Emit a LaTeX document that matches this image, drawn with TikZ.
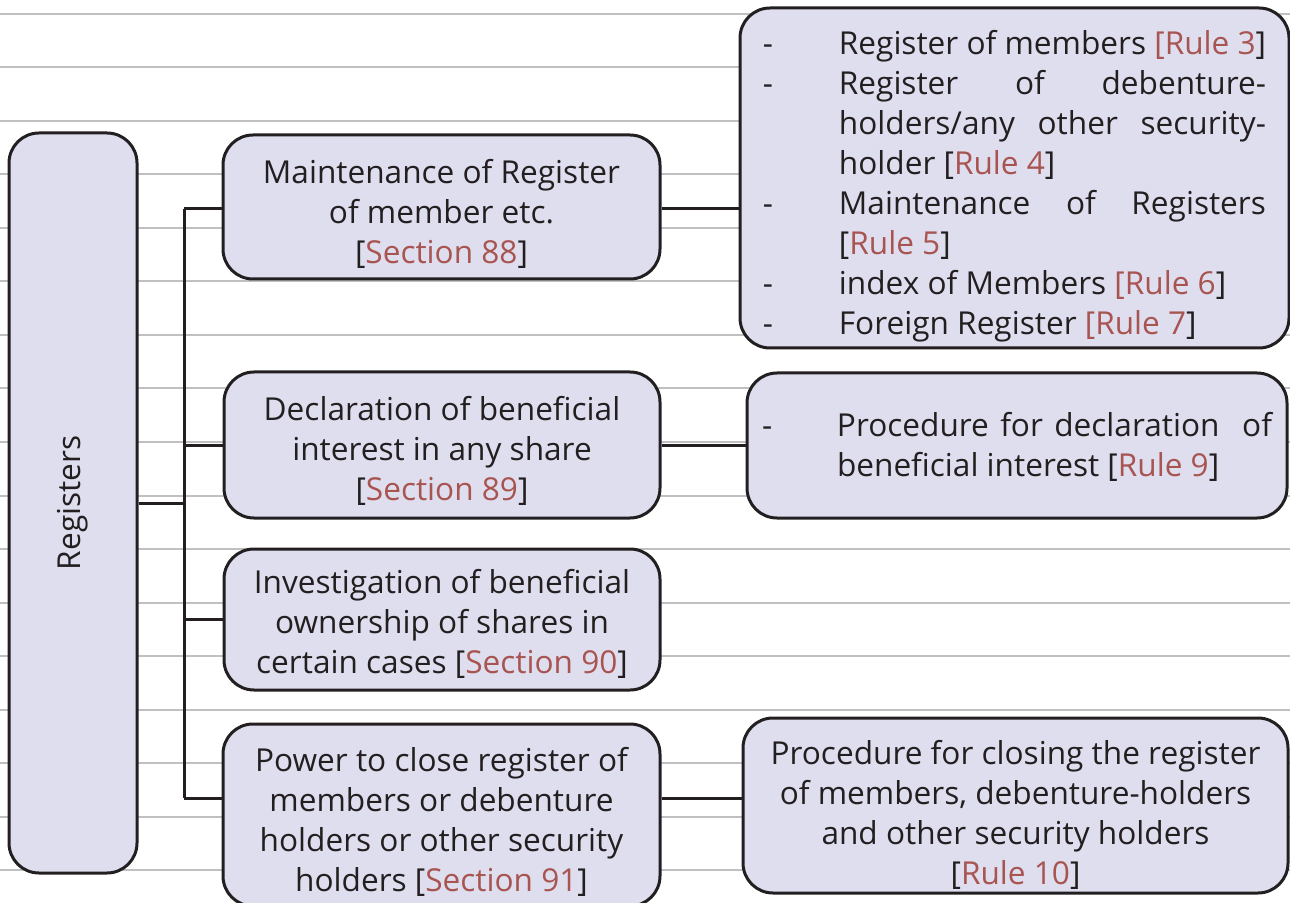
\documentclass[tikz,border=0pt]{standalone}
\usepackage{fontspec}
\setmainfont{Open Sans}
\usetikzlibrary{calc}
\definecolor{boxfill}{RGB}{223,222,239}
\definecolor{boxline}{RGB}{35,31,32}
\definecolor{refred}{RGB}{168,84,80}
\definecolor{ruleline}{RGB}{192,192,194}
\newcommand{\rf}[1]{\textcolor{refred}{#1}}
\newcommand{\dashitem}{\makebox[38pt][l]{-}}
\begin{document}
\begin{tikzpicture}[x=0.5pt,y=-0.5pt,
  box/.style={draw=boxline, line width=1.5pt, fill=boxfill, rounded corners=15pt,
    inner sep=0pt},
  boxtext/.style={inner sep=0pt, font=\fontsize{15.8}{20}\selectfont, text=boxline, align=center},
  link/.style={draw=boxline, line width=1.5pt}]
  \useasboundingbox (0,0) rectangle (1290,903);
  \fill[white] (0,0) rectangle (1290,903);
  % ruled background
  \foreach \k in {0,...,16}
    \draw[ruleline, line width=1pt] (0,14+53.5*\k) -- (1290,14+53.5*\k);

  % root box
  \node[box, minimum width=64pt, minimum height=370pt] (reg) at (73,503) {};
  \node[boxtext] (regt) at (73,503) {\rotatebox{90}{Registers}};

  % section boxes
  \node[box, minimum width=218.5pt, minimum height=72pt] (A) at (441.5,207) {};
  \node[boxtext] (At) at (441.5,214)
    {Maintenance of Register\\of member etc.\\{[}\rf{Section 88}{]}};
  \node[box, minimum width=218pt, minimum height=73pt] (B) at (442,445) {};
  \node[boxtext] (Bt) at (442,450.5)
    {Declaration of beneficial\\interest in any share\\{[}\rf{Section 89}{]}};
  \node[box, minimum width=218pt, minimum height=70.5pt] (C) at (442,619.5) {};
  \node[boxtext] (Ct) at (442,624)
    {Investigation of beneficial\\ownership of shares in\\certain cases {[}\rf{Section 90}{]}};
  \node[box, minimum width=218.5pt, minimum height=91pt] (D) at (441.5,815) {};
  \node[boxtext] (Dt) at (441.5,822)
    {Power to close register of\\members or debenture\\holders or other security\\holders {[}\rf{Section 91}{]}};

  % rule boxes
  \node[box, minimum width=274.5pt, minimum height=170pt] (E) at (1014.5,178) {};
  \node[boxtext, align=left] (Et) at (1014.5,186)
    {\dashitem Register of members \rf{[Rule 3}]\\
     \dashitem\makebox[213.5pt][s]{Register of debenture-}\\
     \hspace*{38pt}\makebox[213.5pt][s]{holders/any other security-}\\
     \hspace*{38pt}holder {[}\rf{Rule 4}{]}\\
     \dashitem\makebox[213.5pt][s]{Maintenance of Registers}\\
     \hspace*{38pt}{[}\rf{Rule 5}{]}\\
     \dashitem index of Members \rf{[Rule 6}]\\
     \dashitem Foreign Register \rf{[Rule 7}]};
  \node[box, minimum width=270pt, minimum height=72.5pt] (F) at (1017,445.5) {};
  \node[boxtext, align=left] (Ft) at (1017,446.5)
    {\makebox[37.5pt][l]{-}\makebox[217.5pt][s]{Procedure for declaration\ \ of}\\
     \hspace*{37.5pt}beneficial interest {[}\rf{Rule 9}{]}};
  \node[box, minimum width=272.5pt, minimum height=87.5pt] (G) at (1015.5,805.5) {};
  \node[boxtext] (Gt) at (1015.5,814.5)
    {Procedure for closing the register\\of members, debenture-holders\\and other security holders\\{[}\rf{Rule 10}{]}};

  % connector junctions
  \coordinate (j)  at (184,503);
  \coordinate (jA) at (184,209);
  \coordinate (jB) at (184,446);
  \coordinate (jC) at (184,619);
  \coordinate (jD) at (184,798);

  \draw[link] (reg.east |- j) -- (j);
  \draw[link] (jA) -- (jD);
  \draw[link] (jA) -- (jA -| A.west);
  \draw[link] (jB) -- (jB -| B.west);
  \draw[link] (jC) -- (jC -| C.west);
  \draw[link] (jD) -- (jD -| D.west);
  \draw[link] (jA -| A.east) -- (jA -| E.west);
  \draw[link] (jB -| B.east) -- (jB -| F.west);
  \draw[link] (jD -| D.east) -- (jD -| G.west);
\end{tikzpicture}
\end{document}
